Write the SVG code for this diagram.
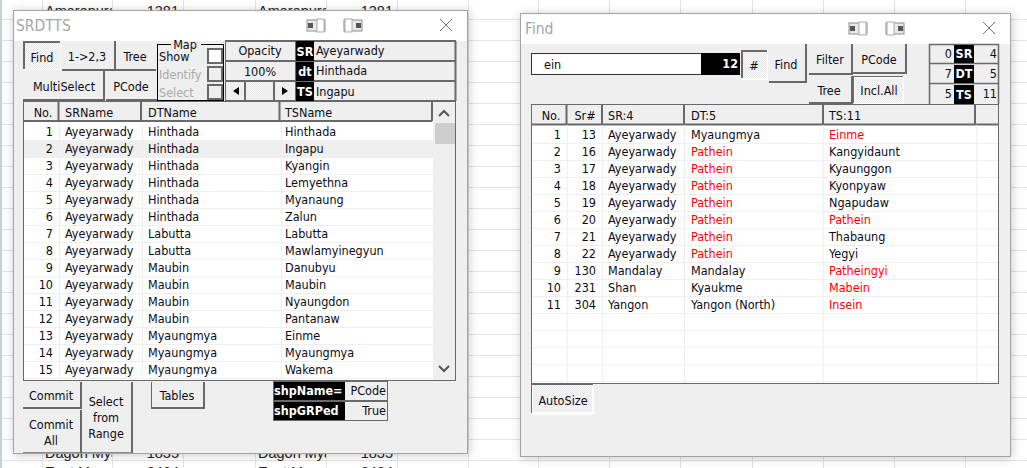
<svg xmlns="http://www.w3.org/2000/svg" width="1027" height="468" viewBox="0 0 1027 468">
<defs>
<style>
text{font-family:"DejaVu Sans Condensed","DejaVu Sans","Liberation Sans",sans-serif;font-stretch:condensed;font-size:12.500px;fill:#0c0c14}
.m{text-anchor:middle}.e{text-anchor:end}
.w{fill:#efefef;stroke:#a3a3a3;stroke-width:1}
.tb{fill:#fff}
.title{font-size:15.500px;fill:#a6a6a6}
.s{font-family:"Liberation Sans",sans-serif;font-stretch:normal;font-size:14.500px;fill:#222}
.g{stroke:#e3e3e3;stroke-width:1;fill:none}
.l{stroke:#efefef;stroke-width:1;fill:none}
.d{fill:#696969}
.f{fill:#efefef}
.p{fill:url(#dith)}
.k{fill:#000}
.b{font-weight:bold;fill:#fff}
.r{fill:#f00}
.dim{fill:#a9a9a9}
.c{fill:#efefef;stroke:#696969;stroke-width:2}
.x{stroke:#777;fill:none;stroke-width:1}
</style>
<pattern id="dith" width="2" height="2" patternUnits="userSpaceOnUse"><rect width="2" height="2" fill="#f7f7f7"/><rect width="1" height="1" fill="#e9e9e9"/><rect x="1" y="1" width="1" height="1" fill="#e9e9e9"/></pattern>
<filter id="sh" x="-6%" y="-6%" width="112%" height="112%"><feDropShadow dx="1" dy="1" stdDeviation="5" flood-color="#000" flood-opacity=".22"/></filter>
<clipPath id="c1"><rect x="43" y="0" width="69" height="468"/></clipPath>
<clipPath id="c2"><rect x="256" y="0" width="70" height="468"/></clipPath>
<g id="ico"><rect x="-9" y="-5" width="18" height="11" fill="#e8e8e8" stroke="#8c8c8c"/><rect x="-8" y="-2" width="5" height="5" fill="#555"/><rect x="1" y="-6" width="7" height="13" fill="#fff" stroke="#aaa"/></g>
<g id="ico2"><rect x="-9" y="-5" width="18" height="11" fill="#e8e8e8" stroke="#8c8c8c"/><rect x="3" y="-2" width="5" height="5" fill="#555"/><rect x="-8" y="-6" width="7" height="13" fill="#fff" stroke="#aaa"/></g>
</defs>
<rect width="1027" height="468" fill="#fff"/>
<g id="sheet">
<path class="g" d="M0 19.500H1027M0 40.500H1027M0 61.500H1027M0 82.500H1027M0 103.500H1027M0 124.500H1027M0 145.500H1027M0 166.500H1027M0 187.500H1027M0 208.500H1027M0 229.500H1027M0 250.500H1027M0 271.500H1027M0 292.500H1027M0 313.500H1027M0 334.500H1027M0 355.500H1027M0 376.500H1027M0 397.500H1027M0 418.500H1027M0 439.500H1027M0 460.500H1027"/>
<path class="g" d="M42.500 0V468M112.500 0V468M183.500 0V468M255.500 0V468M326.500 0V468M397.500 0V468M468.500 0V468M538.500 0V468M609.500 0V468M680.500 0V468M752.500 0V468M823.500 0V468M894.500 0V468M965.500 0V468"/>
<rect x="0" y="0" width="2" height="468" fill="#c4d0e4"/>
<g clip-path="url(#c1)"><text class="s" x="45" y="16">Amarapura</text><text class="s" x="45" y="458">Dagon Myaing</text><text class="s" x="45" y="477">East M</text></g>
<g clip-path="url(#c2)"><text class="s" x="258" y="16">Amarapura</text><text class="s" x="258" y="458">Dagon Myaing</text><text class="s" x="258" y="477">East M</text></g>
<text class="s e" x="179" y="16">1381</text><text class="s e" x="393" y="16">1381</text>
<text class="s e" x="179" y="458">1835</text><text class="s e" x="393" y="458">1835</text>
<text class="s e" x="179" y="477">6464</text><text class="s e" x="393" y="477">6464</text>
</g>

<g id="srdtts-window">
<rect class="w" x="13.500" y="10.500" width="454" height="443" filter="url(#sh)"/>
<rect class="tb" x="14" y="11" width="453" height="30"/>
<text class="title" x="16" y="31">SRDTTS</text>
<use href="#ico" x="316" y="25"/><use href="#ico2" x="353" y="25"/>
<path class="x" d="M440 19L452 31M452 19L440 31"/>
</g>

<g id="srdtts-buttons">
<rect x="23" y="41" width="38" height="29" fill="#fff"/><rect class="p" x="25" y="43" width="35" height="26"/><rect class="d" x="23" y="41" width="37" height="2"/><rect class="d" x="23" y="41" width="2" height="28"/>
<text class="m" x="42" y="62">Find</text>
<rect class="d" x="62" y="69" width="53" height="2"/><rect class="d" x="114" y="41" width="2" height="30"/>
<text class="m" x="87" y="61">1-&gt;2,3</text>
<rect class="d" x="116" y="69" width="40" height="2"/>
<text class="m" x="135" y="61">Tree</text>
<rect class="d" x="103" y="71" width="2" height="30"/><rect class="d" x="23" y="99" width="82" height="2"/>
<text class="m" x="64" y="91">MultiSelect</text>
<rect class="d" x="106" y="99" width="51" height="2"/>
<text class="m" x="131" y="91">PCode</text>
</g>

<g id="srdtts-map">
<rect x="157.500" y="44.500" width="66" height="56" fill="#efefef" stroke="#000"/>
<rect class="f" x="171" y="42" width="30" height="6"/>
<text class="m" x="185" y="49">Map</text>
<text x="159" y="61">Show</text><text class="dim" x="159" y="79">Identify</text><text class="dim" x="159" y="97">Select</text>
<rect x="208" y="49" width="14" height="14" fill="#fff" stroke="#696969" stroke-width="2"/>
<rect class="c" x="208" y="67" width="14" height="14"/>
<rect class="c" x="208" y="85" width="14" height="14"/>
</g>

<g id="srdtts-opacity">
<rect class="f" x="225" y="41" width="231" height="60"/>
<path d="M225 41H456M225 61H456M225 81H456M225 101H456M455.500 41V101" stroke="#696969" stroke-width="2" fill="none"/>
<rect class="d" x="225" y="41" width="1" height="60"/><rect class="d" x="295" y="41" width="2" height="60"/>
<rect class="k" x="296" y="41" width="18" height="20"/><rect class="k" x="296" y="62" width="18" height="19"/><rect class="k" x="296" y="82" width="18" height="19"/>
<text class="b m" x="305" y="56">SR</text><text class="b m" x="305" y="76">dt</text><text class="b m" x="305" y="96">TS</text>
<text class="m" x="260" y="55">Opacity</text><text class="m" x="260" y="76">100%</text>
<text x="316" y="55">Ayeyarwady</text><text x="316" y="75">Hinthada</text><text x="316" y="96">Ingapu</text>
<rect class="f" x="226" y="82" width="19" height="18"/><rect class="d" x="244" y="82" width="2" height="18"/>
<path d="M239 87V95L233 91Z" fill="#000"/>
<rect class="p" x="246" y="82" width="16" height="18"/><rect x="262" y="82" width="11" height="18" fill="#efefef"/><rect class="d" x="273" y="82" width="2" height="18"/>
<path d="M282 87V95L288 91Z" fill="#000"/>
</g>

<g id="srdtts-list">
<rect x="23.500" y="101.500" width="432" height="279" fill="#fff" stroke="#696969"/>
<rect class="f" x="24" y="102" width="431" height="20"/>
<path d="M58.500 102V121M141 102V121M279.500 102V121M432 102V121M24 121H432" stroke="#696969" stroke-width="2" fill="none"/>
<text class="m" x="43" y="117">No.</text><text x="65" y="117">SRName</text><text x="148" y="117">DTName</text><text x="285" y="117">TSName</text>
<rect class="f" x="434" y="122" width="21" height="258"/>
<rect x="435" y="123" width="20" height="21" fill="#cdcdcd"/>
<path d="M439 116L444 111L449 116M439 366L444 371L449 366" stroke="#555" stroke-width="2" fill="none"/>
<rect class="f" x="24" y="141" width="409" height="16"/>
<path class="l" d="M59.500 122V380M142.500 122V380M281.500 122V380M433.500 122V380M24 140.500H433M24 157.500H433M24 174.500H433M24 191.500H433M24 208.500H433M24 225.500H433M24 242.500H433M24 259.500H433M24 276.500H433M24 293.500H433M24 310.500H433M24 327.500H433M24 344.500H433M24 361.500H433M24 378.500H433"/>
<text class="e" x="53" y="136">1</text><text x="65" y="136">Ayeyarwady</text><text x="148" y="136">Hinthada</text><text x="285" y="136">Hinthada</text>
<text class="e" x="53" y="153">2</text><text x="65" y="153">Ayeyarwady</text><text x="148" y="153">Hinthada</text><text x="285" y="153">Ingapu</text>
<text class="e" x="53" y="170">3</text><text x="65" y="170">Ayeyarwady</text><text x="148" y="170">Hinthada</text><text x="285" y="170">Kyangin</text>
<text class="e" x="53" y="187">4</text><text x="65" y="187">Ayeyarwady</text><text x="148" y="187">Hinthada</text><text x="285" y="187">Lemyethna</text>
<text class="e" x="53" y="204">5</text><text x="65" y="204">Ayeyarwady</text><text x="148" y="204">Hinthada</text><text x="285" y="204">Myanaung</text>
<text class="e" x="53" y="221">6</text><text x="65" y="221">Ayeyarwady</text><text x="148" y="221">Hinthada</text><text x="285" y="221">Zalun</text>
<text class="e" x="53" y="238">7</text><text x="65" y="238">Ayeyarwady</text><text x="148" y="238">Labutta</text><text x="285" y="238">Labutta</text>
<text class="e" x="53" y="255">8</text><text x="65" y="255">Ayeyarwady</text><text x="148" y="255">Labutta</text><text x="285" y="255">Mawlamyinegyun</text>
<text class="e" x="53" y="272">9</text><text x="65" y="272">Ayeyarwady</text><text x="148" y="272">Maubin</text><text x="285" y="272">Danubyu</text>
<text class="e" x="53" y="289">10</text><text x="65" y="289">Ayeyarwady</text><text x="148" y="289">Maubin</text><text x="285" y="289">Maubin</text>
<text class="e" x="53" y="306">11</text><text x="65" y="306">Ayeyarwady</text><text x="148" y="306">Maubin</text><text x="285" y="306">Nyaungdon</text>
<text class="e" x="53" y="323">12</text><text x="65" y="323">Ayeyarwady</text><text x="148" y="323">Maubin</text><text x="285" y="323">Pantanaw</text>
<text class="e" x="53" y="340">13</text><text x="65" y="340">Ayeyarwady</text><text x="148" y="340">Myaungmya</text><text x="285" y="340">Einme</text>
<text class="e" x="53" y="357">14</text><text x="65" y="357">Ayeyarwady</text><text x="148" y="357">Myaungmya</text><text x="285" y="357">Myaungmya</text>
<text class="e" x="53" y="374">15</text><text x="65" y="374">Ayeyarwady</text><text x="148" y="374">Myaungmya</text><text x="285" y="374">Wakema</text>
</g>

<g id="srdtts-bottom">
<rect class="d" x="23" y="407" width="58" height="2"/><rect class="d" x="80" y="382" width="2" height="27"/>
<text class="m" x="51" y="400">Commit</text>
<rect x="23" y="452" width="58" height="1" fill="#8a8a8a"/>
<text class="m" x="51" y="429">Commit</text><text class="m" x="51" y="445">All</text>
<rect class="d" x="131" y="382" width="2" height="71"/><rect x="82" y="452" width="50" height="1" fill="#8a8a8a"/><rect class="d" x="80" y="410" width="2" height="43"/>
<text class="m" x="106" y="406">Select</text><text class="m" x="106" y="422">from</text><text class="m" x="106" y="438">Range</text>
<rect class="d" x="151" y="407" width="54" height="2"/><rect class="d" x="203" y="382" width="2" height="27"/><rect class="d" x="151" y="382" width="1" height="27"/>
<text class="m" x="177" y="400">Tables</text>
<rect x="273.500" y="381.500" width="114" height="19" fill="#efefef" stroke="#696969"/>
<rect x="273.500" y="401.500" width="114" height="19" fill="#efefef" stroke="#696969"/>
<rect class="k" x="274" y="382" width="71" height="18"/><rect class="k" x="274" y="402" width="71" height="18"/>
<text class="b" x="274" y="395">shpName=</text><text class="b" x="274" y="415">shpGRPed</text>
<text class="e" x="386" y="395">PCode</text><text class="e" x="386" y="415">True</text>
</g>

<g id="find-window">
<rect class="w" x="520.500" y="13.500" width="490" height="443" filter="url(#sh)"/>
<rect class="tb" x="521" y="14" width="489" height="30"/>
<text class="title" x="525" y="34">Find</text>
<use href="#ico" x="858" y="28"/><use href="#ico2" x="895" y="28"/>
<path class="x" d="M983 22L995 34M995 22L983 34"/>
</g>

<g id="find-search">
<rect x="531.500" y="53.500" width="170" height="21" fill="#fff" stroke="#333"/>
<text x="544" y="69">ein</text>
<rect class="k" x="701" y="53" width="39" height="22"/>
<text class="b e" x="738" y="68">12</text>
<rect x="741" y="50" width="27" height="30" fill="#fff"/><rect class="p" x="743" y="52" width="24" height="26"/><rect class="d" x="741" y="50" width="26" height="2"/><rect class="d" x="741" y="50" width="2" height="28"/>
<text class="m" x="754" y="70">#</text>
<rect class="d" x="769" y="81" width="38" height="2"/><rect class="d" x="805" y="44" width="2" height="39"/>
<text class="m" x="786" y="69">Find</text>
<rect class="d" x="809" y="73" width="42" height="2"/><rect class="d" x="851" y="44" width="2" height="31"/>
<text class="m" x="830" y="64">Filter</text>
<rect class="d" x="809" y="102" width="42" height="2"/><rect class="d" x="851" y="76" width="2" height="28"/>
<text class="m" x="829" y="95">Tree</text>
<rect class="d" x="853" y="72" width="54" height="2"/><rect class="d" x="905" y="44" width="2" height="30"/>
<text class="m" x="879" y="64">PCode</text>
<rect x="853" y="76" width="51" height="28" fill="#fff"/><rect class="p" x="855" y="78" width="48" height="25"/><rect class="d" x="853" y="76" width="50" height="1"/><rect class="d" x="853" y="76" width="1" height="27"/>
<text class="m" x="879" y="95">Incl.All</text>
</g>

<g id="find-counts">
<path d="M929 44.500H999M929 63.500H999M929 83.500H999M929.500 44V104M998.500 44V104" stroke="#696969" stroke-width="1.500" fill="none"/>
<rect class="k" x="954" y="45" width="20" height="18"/><rect class="k" x="954" y="65" width="20" height="18"/><rect class="k" x="954" y="85" width="20" height="19"/>
<text class="b m" x="964" y="58">SR</text><text class="b m" x="964" y="78">DT</text><text class="b m" x="964" y="99">TS</text>
<text class="e" x="952" y="58">0</text><text class="e" x="952" y="78">7</text><text class="e" x="952" y="98">5</text>
<text class="e" x="997" y="58">4</text><text class="e" x="997" y="78">5</text><text class="e" x="997" y="98">11</text>
</g>

<g id="find-list">
<rect x="531.500" y="104.500" width="467" height="279" fill="#fff" stroke="#696969"/>
<rect class="f" x="532" y="105" width="466" height="19"/>
<path d="M566.500 105V124M602 105V124M684 105V124M823 105V124M975 105V124M532 124.500H998" stroke="#696969" stroke-width="2" fill="none"/>
<text class="m" x="551" y="120">No.</text><text class="m" x="585" y="120">Sr#</text><text x="608" y="120">SR:4</text><text x="691" y="120">DT:5</text><text x="829" y="120">TS:11</text>
<path class="l" d="M567.500 125V383M602.500 125V383M684.500 125V383M823.500 125V383M976.500 125V383M532 143.500H998M532 160.500H998M532 177.500H998M532 194.500H998M532 211.500H998M532 228.500H998M532 245.500H998M532 262.500H998M532 279.500H998M532 296.500H998M532 313.500H998M532 330.500H998M532 347.500H998M532 364.500H998M532 381.500H998"/>
<text class="e" x="561" y="139">1</text><text class="e" x="596" y="139">13</text><text x="608" y="139">Ayeyarwady</text><text x="691" y="139">Myaungmya</text><text class="r" x="829" y="139">Einme</text>
<text class="e" x="561" y="156">2</text><text class="e" x="596" y="156">16</text><text x="608" y="156">Ayeyarwady</text><text class="r" x="691" y="156">Pathein</text><text x="829" y="156">Kangyidaunt</text>
<text class="e" x="561" y="173">3</text><text class="e" x="596" y="173">17</text><text x="608" y="173">Ayeyarwady</text><text class="r" x="691" y="173">Pathein</text><text x="829" y="173">Kyaunggon</text>
<text class="e" x="561" y="190">4</text><text class="e" x="596" y="190">18</text><text x="608" y="190">Ayeyarwady</text><text class="r" x="691" y="190">Pathein</text><text x="829" y="190">Kyonpyaw</text>
<text class="e" x="561" y="207">5</text><text class="e" x="596" y="207">19</text><text x="608" y="207">Ayeyarwady</text><text class="r" x="691" y="207">Pathein</text><text x="829" y="207">Ngapudaw</text>
<text class="e" x="561" y="224">6</text><text class="e" x="596" y="224">20</text><text x="608" y="224">Ayeyarwady</text><text class="r" x="691" y="224">Pathein</text><text class="r" x="829" y="224">Pathein</text>
<text class="e" x="561" y="241">7</text><text class="e" x="596" y="241">21</text><text x="608" y="241">Ayeyarwady</text><text class="r" x="691" y="241">Pathein</text><text x="829" y="241">Thabaung</text>
<text class="e" x="561" y="258">8</text><text class="e" x="596" y="258">22</text><text x="608" y="258">Ayeyarwady</text><text class="r" x="691" y="258">Pathein</text><text x="829" y="258">Yegyi</text>
<text class="e" x="561" y="275">9</text><text class="e" x="596" y="275">130</text><text x="608" y="275">Mandalay</text><text x="691" y="275">Mandalay</text><text class="r" x="829" y="275">Patheingyi</text>
<text class="e" x="561" y="292">10</text><text class="e" x="596" y="292">231</text><text x="608" y="292">Shan</text><text x="691" y="292">Kyaukme</text><text class="r" x="829" y="292">Mabein</text>
<text class="e" x="561" y="309">11</text><text class="e" x="596" y="309">304</text><text x="608" y="309">Yangon</text><text x="691" y="309">Yangon (North)</text><text class="r" x="829" y="309">Insein</text>
</g>

<g id="find-autosize">
<rect x="531" y="384" width="63" height="31" fill="#fff"/><rect class="p" x="533" y="385" width="59" height="27"/><rect class="d" x="531" y="383" width="62" height="2"/><rect class="d" x="531" y="383" width="1" height="30"/>
<text class="m" x="563" y="405">AutoSize</text>
</g>
</svg>
